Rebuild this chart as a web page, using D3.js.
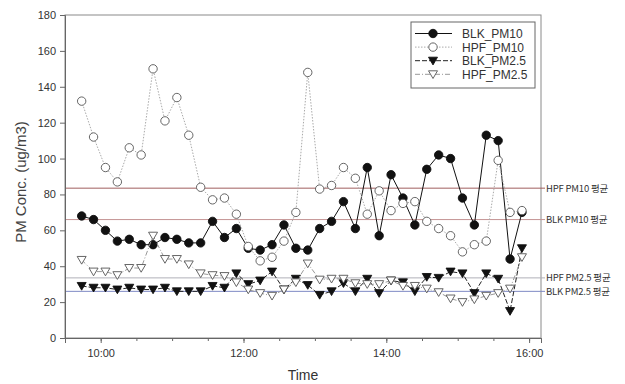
<!DOCTYPE html>
<html>
<head>
<meta charset="utf-8">
<script src="https://cdn.jsdelivr.net/npm/d3@7"></script>
<style>
body { margin: 0; background: #fff; }
svg { display: block; font-family: "Liberation Sans", Arial, sans-serif; }
</style>
</head>
<body>
<svg id="chart" width="625" height="384"></svg>
<script>
// measurement times (every 10 min)
const times = ['09:44','09:54','10:04','10:14','10:24','10:34','10:44','10:54','11:04','11:14',
  '11:24','11:34','11:44','11:54','12:04','12:14','12:24','12:34','12:44','12:54',
  '13:04','13:14','13:24','13:34','13:44','13:54','14:04','14:14','14:24','14:34',
  '14:44','14:54','15:04','15:14','15:24','15:34','15:44','15:54']

const blkPM10 = [68, 66, 60, 54, 55, 52, 52, 56, 55, 53, 53, 65, 56, 61, 50, 49, 52, 63, 50, 49,
  61, 65, 76, 61, 95, 57, 91, 78, 63, 94, 102, 100, 78, 63, 113, 110, 44, 70]
const hpfPM10 = [132, 112, 95, 87, 106, 102, 150, 121, 134, 113, 84, 77, 78, 69, 51, 43, 45, 54, 70, 148,
  83, 85, 95, 89, 69, 82, 71, 75, 76, 65, 61, 57, 48, 52, 54, 99, 70, 71]
const blkPM25 = [29, 28, 28, 27, 28, 27, 27, 28, 26, 26, 26, 29, 28, 36, 30, 32, 37, 27, 33, 29.5,
  24, 26, 30.5, 26, 33, 25, 32, 31, 26, 34, 33.5, 37, 36, 25, 36, 33, 15, 50]
const hpfPM25 = [43.5, 37, 37, 35, 39, 39, 57, 44, 44, 41, 36, 35, 34.5, 31, 27, 25, 23.5, 27, 31, 41.5,
  32.5, 33, 33, 30.5, 30, 30, 32, 29, 29, 27.5, 25.5, 22, 20, 21.5, 23.5, 25, 27.5, 45]

// averages (평균)
const avgNames = ['HPF PM10 평균', 'BLK PM10 평균', 'HPF PM2.5 평균', 'BLK PM2.5 평균']
const avgValues = [83.5, 66, 33.5, 26]
const avgColors = ['#a05e5e', '#c49494', '#b0b0b8', '#7f8ac4']

const yTicks = [0, 20, 40, 60, 80, 100, 120, 140, 160, 180]
const xTicks = ['10:00', '12:00', '14:00', '16:00']

const parse = d3.timeParse('%H:%M')
const svg = d3.select('#chart')

const plotL = 65, plotR = 541, plotT = 15, plotB = 338

const x = d3.scaleTime()
  .domain([parse('09:30'), parse('16:10')])
  .range([plotL, plotR])
const y = d3.scaleLinear()
  .domain([0, 180])
  .range([plotB, plotT])

// frame
svg.append('rect')
  .attr('x', plotL).attr('y', plotT)
  .attr('width', plotR - plotL).attr('height', plotB - plotT)
  .attr('fill', 'none').attr('stroke', '#8a8a8a').attr('stroke-width', 1)

// average lines + labels
svg.append('g').selectAll('line')
  .data(avgValues)
  .join('line')
  .attr('x1', plotL).attr('x2', 545)
  .attr('y1', d => y(d)).attr('y2', d => y(d))
  .attr('stroke', (d, i) => avgColors[i])
  .attr('stroke-width', 1)

svg.append('g').selectAll('text')
  .data(avgNames)
  .join('text')
  .attr('x', 546)
  .attr('y', (d, i) => y(avgValues[i]) + 3.5)
  .attr('font-family', '"Noto Sans CJK KR", sans-serif')
  .attr('font-size', 9.5)
  .attr('letter-spacing', -0.2)
  .attr('fill', '#333')
  .text(d => d)

// axes
const yAxis = d3.axisLeft(y).tickValues(yTicks).tickSize(5).tickPadding(4)
svg.append('g').attr('transform', `translate(${plotL},0)`).call(yAxis)

const xMinor = d3.axisBottom(x)
  .tickValues(d3.timeMinute.every(30).range(parse('10:00'), parse('16:01')))
  .tickSize(3).tickFormat('')
svg.append('g').attr('transform', `translate(0,${plotB})`).call(xMinor)

const xAxis = d3.axisBottom(x)
  .tickValues(xTicks.map(parse))
  .tickFormat(d3.timeFormat('%H:%M'))
  .tickSize(5).tickPadding(6)
svg.append('g').attr('transform', `translate(0,${plotB})`).call(xAxis)

svg.selectAll('.domain').attr('stroke', '#666')
svg.selectAll('.tick line').attr('stroke', '#666')
svg.selectAll('.tick text')
  .attr('font-family', '"Liberation Sans", Arial, sans-serif')
  .attr('font-size', 11)
  .attr('fill', '#333')

svg.append('text')
  .attr('x', 303).attr('y', 380)
  .attr('text-anchor', 'middle')
  .attr('font-size', 14)
  .attr('fill', '#333')
  .text('Time')

svg.append('text')
  .attr('transform', 'translate(26,182) rotate(-90)')
  .attr('text-anchor', 'middle')
  .attr('font-size', 15)
  .attr('fill', '#444')
  .text('PM Conc. (ug/m3)')

// series
const triDown = 'M-4.5,-3.5L4.5,-3.5L0,4.2Z'
const series = [
  { name: 'BLK_PM10', values: blkPM10, line: '#111', dash: null, marker: 'circle', fill: '#111', stroke: '#111' },
  { name: 'HPF_PM10', values: hpfPM10, line: '#aaa', dash: '1.5,1.5', marker: 'circle', fill: '#fff', stroke: '#555' },
  { name: 'BLK_PM2.5', values: blkPM25, line: '#222', dash: '5,2', marker: 'tri', fill: '#111', stroke: '#111' },
  { name: 'HPF_PM2.5', values: hpfPM25, line: '#999', dash: '5,2,1,2', marker: 'tri', fill: '#fff', stroke: '#555' }
]

const line = d3.line()
  .x(d => x(d.t))
  .y(d => y(d.v))

series.forEach(s => {
  const pts = s.values.map((v, i) => ({ t: parse(times[i]), v }))
  const g = svg.append('g')
  g.append('path')
    .datum(pts)
    .attr('d', line)
    .attr('fill', 'none')
    .attr('stroke', s.line)
    .attr('stroke-width', 1)
    .attr('stroke-dasharray', s.dash)
  if (s.marker === 'circle') {
    g.selectAll('circle')
      .data(pts)
      .join('circle')
      .attr('cx', d => x(d.t))
      .attr('cy', d => y(d.v))
      .attr('r', 4.2)
      .attr('fill', s.fill)
      .attr('stroke', s.stroke)
      .attr('stroke-width', 0.9)
  } else {
    g.selectAll('path.m')
      .data(pts)
      .join('path')
      .attr('class', 'm')
      .attr('d', triDown)
      .attr('transform', d => `translate(${x(d.t)},${y(d.v)})`)
      .attr('fill', s.fill)
      .attr('stroke', s.stroke)
      .attr('stroke-width', 0.9)
  }
})

// legend
const legend = svg.append('g')
legend.append('rect')
  .attr('x', 411).attr('y', 22)
  .attr('width', 124).attr('height', 66)
  .attr('fill', '#fff').attr('stroke', '#666').attr('stroke-width', 1)

const rows = legend.selectAll('g.row')
  .data(series)
  .join('g')
  .attr('class', 'row')
  .attr('transform', (d, i) => `translate(0,${33.5 + i * 13.6})`)

rows.append('line')
  .attr('x1', 415).attr('x2', 452)
  .attr('stroke', d => d.line)
  .attr('stroke-width', 1)
  .attr('stroke-dasharray', d => d.dash)

rows.each(function (d) {
  const r = d3.select(this)
  if (d.marker === 'circle') {
    r.append('circle').attr('cx', 433).attr('cy', 0).attr('r', 4.2)
      .attr('fill', d.fill).attr('stroke', d.stroke).attr('stroke-width', 0.9)
  } else {
    r.append('path').attr('d', triDown).attr('transform', 'translate(433,0)')
      .attr('fill', d.fill).attr('stroke', d.stroke).attr('stroke-width', 0.9)
  }
})

rows.append('text')
  .attr('x', 462).attr('y', 4.5)
  .attr('font-size', 12)
  .attr('fill', '#333')
  .text(d => d.name)
</script>
</body>
</html>
